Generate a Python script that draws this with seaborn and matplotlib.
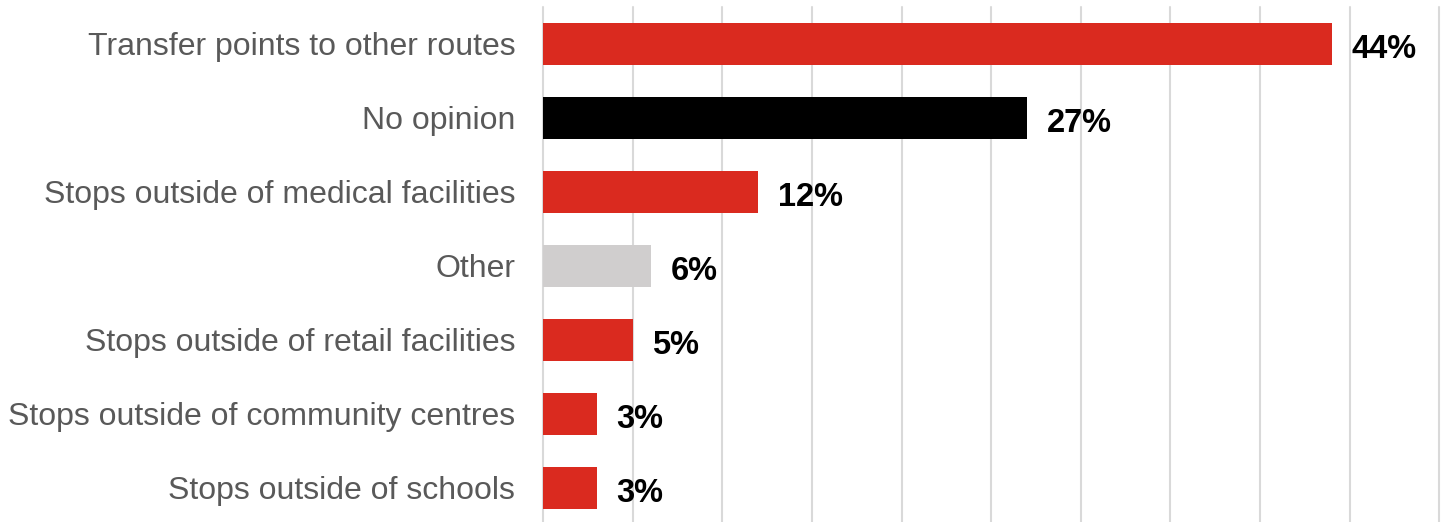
import matplotlib
matplotlib.use("Agg")
import matplotlib.pyplot as plt
import seaborn as sns
import pandas as pd

categories = [
    "Transfer points to other routes",
    "No opinion",
    "Stops outside of medical facilities",
    "Other",
    "Stops outside of retail facilities",
    "Stops outside of community centres",
    "Stops outside of schools",
]
values = [44, 27, 12, 6, 5, 3, 3]
value_labels = ["44%", "27%", "12%", "6%", "5%", "3%", "3%"]
bar_colors = ["#da2a1f", "#000000", "#da2a1f", "#d0cece", "#da2a1f", "#da2a1f", "#da2a1f"]

df = pd.DataFrame({"category": categories, "value": values})

sns.set_theme(style="white")
plt.rcParams["font.family"] = ["Liberation Sans", "DejaVu Sans"]

fig = plt.figure(figsize=(14.45, 5.22), dpi=100)
ax = fig.add_axes([543 / 1445, 0.0, (1445 - 543) / 1445, (522 - 7) / 522])

sns.barplot(
    data=df, x="value", y="category", hue="category",
    palette=dict(zip(categories, bar_colors)), order=categories,
    width=0.57, legend=False, ax=ax, saturation=1, edgecolor="none",
)

ax.set_xlim(0, 50.32)
ax.set_ylim(6.46, -0.5)
ax.set_xticks(range(0, 51, 5))
ax.set_xticklabels([])
ax.xaxis.grid(True, color="#d9d9d9", linewidth=1.5)
for gl in ax.get_xgridlines():
    gl.set_clip_on(False)
ax.yaxis.grid(False)
ax.set_axisbelow(True)
for s in ax.spines.values():
    s.set_visible(False)
ax.set_xlabel("")
ax.set_ylabel("")
ax.tick_params(axis="y", length=0, pad=20, labelsize=23, labelcolor="#595959")
ax.tick_params(axis="x", length=0)

for i, (v, lab) in enumerate(zip(values, value_labels)):
    ax.text(v + 1.1, i + 0.07, lab, va="center", ha="left",
            fontsize=23.5, fontweight="bold", color="#000000")

fig.savefig("out.png", dpi=100)
